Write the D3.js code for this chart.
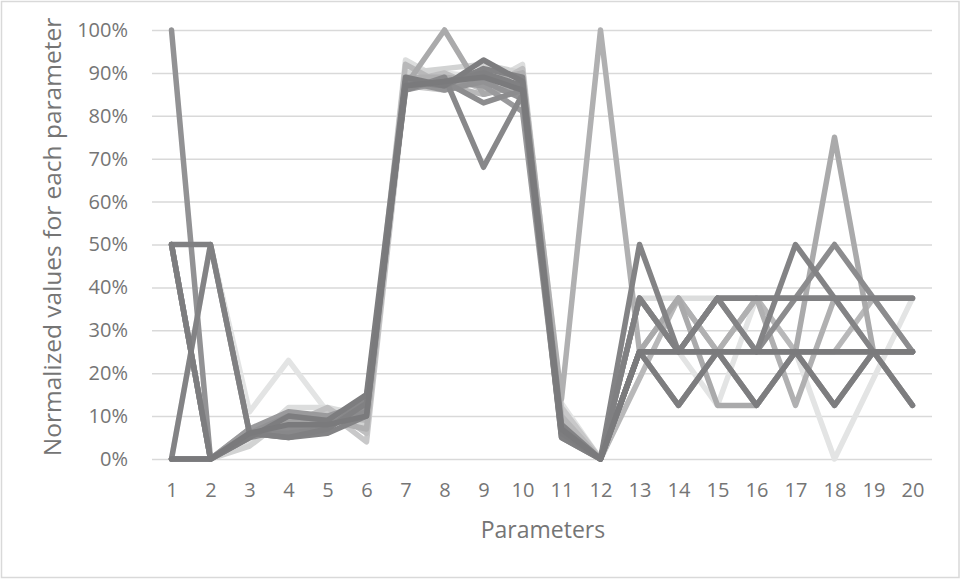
<!DOCTYPE html>
<html>
<head>
<meta charset="utf-8">
<script src="https://cdn.jsdelivr.net/npm/d3@7"></script>
<style>
  html, body { margin: 0; padding: 0; background: #ffffff; }
  svg { display: block; font-family: "Open Sans", "Noto Sans", sans-serif; }
</style>
</head>
<body>
<svg id="chart" width="961" height="579"></svg>
<script>
// Parameter indices along the x axis
const parameters = d3.range(1, 21);

// Y axis tick values (fractions) and their labels
const yTicks = [0, 0.1, 0.2, 0.3, 0.4, 0.5, 0.6, 0.7, 0.8, 0.9, 1.0];
const yTickLabels = ["0%", "10%", "20%", "30%", "40%", "50%", "60%", "70%", "80%", "90%", "100%"];

// Normalized values (%) for each design, parameter 1..20
const s01 = [0, 50, 11, 23, 11, 12, 91, 90, 89, 91, 13, 0, 25, 25, 12.5, 37.5, 25, 0, 18.75, 37.5];
const s02 = [0, 0, 4, 12, 12, 10, 93, 88, 87, 92, 11, 0, 37.5, 37.5, 37.5, 37.5, 37.5, 37.5, 37.5, 37.5];
const s03 = [50, 0, 3, 10, 10, 8, 90, 91, 92, 90, 10, 0, 25, 25, 25, 25, 25, 25, 25, 25];
const s04 = [0, 0, 5, 9, 11, 4, 87, 86, 90, 89, 12, 0, 25, 12.5, 25, 12.5, 25, 12.5, 25, 12.5];
const s05 = [50, 0, 6, 8, 12, 6, 88, 90, 86, 91, 9, 0, 37.5, 25, 37.5, 37.5, 37.5, 37.5, 37.5, 37.5];
const s06 = [0, 0, 7, 7, 10, 9, 92, 87, 85, 88, 10, 0, 18.75, 37.5, 25, 37.5, 25, 25, 37.5, 25];
const s07 = [0, 0, 6, 8, 9, 7, 89, 89, 88, 90, 14, 100, 25, 37.5, 25, 37.5, 12.5, 37.5, 25, 25];
const s08 = [0, 0, 5, 10, 8, 11, 87, 100, 85, 87, 8, 0, 25, 37.5, 12.5, 12.5, 25, 75, 25, 25];
const s09 = [0, 0, 6, 9, 9, 12, 88, 87, 89, 86, 7, 0, 25, 25, 25, 25, 25, 25, 25, 25];
const s10 = [50, 0, 7, 11, 10, 13, 86, 88, 87, 81, 6, 0, 37.5, 25, 37.5, 37.5, 37.5, 37.5, 37.5, 37.5];
const s11 = [100, 0, 6, 10, 9, 12, 88, 86, 88, 84, 7, 0, 25, 12.5, 25, 12.5, 25, 12.5, 25, 12.5];
const s12 = [0, 0, 5, 7, 8, 11, 87, 88, 83, 86, 6, 0, 37.5, 25, 37.5, 25, 37.5, 50, 37.5, 25];
const s13 = [50, 0, 6, 6, 7, 14, 86, 89, 68, 85, 5, 0, 25, 25, 25, 25, 25, 25, 25, 25];
const s14 = [0, 50, 6, 5, 6, 10, 88, 87, 91, 89, 8, 0, 50, 25, 37.5, 25, 50, 37.5, 25, 25];
const s15 = [50, 50, 6, 5, 7, 13, 87, 88, 90, 87, 5, 0, 37.5, 25, 37.5, 37.5, 37.5, 37.5, 37.5, 37.5];
const s16 = [50, 0, 5, 10, 9, 15, 89, 87, 93, 88, 6, 0, 25, 12.5, 25, 12.5, 25, 12.5, 25, 12.5];
const s17 = [0, 0, 6, 8, 8, 10, 87, 88, 89, 86, 7, 0, 25, 25, 25, 25, 25, 25, 25, 25];

const seriesValues = [s01, s02, s03, s04, s05, s06, s07, s08, s09, s10, s11, s12, s13, s14, s15, s16, s17];

// Grey ramp, lightest drawn first so the darker lines sit on top
const seriesColors = ["#e3e4e4", "#dcdddd", "#d2d3d3", "#c8c8c9", "#bfbfc0", "#b8b8b9", "#b0b0b1",
                      "#aaaaab", "#a1a1a2", "#9a9a9c", "#929294", "#8c8c8e", "#88888a", "#838385",
                      "#808082", "#7d7d7f", "#7a7a7c"];

const width = 961, height = 579;
const plot = { left: 152, right: 932, top: 30, bottom: 459 };
const textColor = "#757575";
const gridColor = "#d9d9d9";

const svg = d3.select("#chart");

// Chart area border
svg.append("rect")
  .attr("x", 1.5).attr("y", 1.5)
  .attr("width", width - 3.5).attr("height", height - 3)
  .attr("fill", "#ffffff")
  .attr("stroke", gridColor)
  .attr("stroke-width", 1.5);

const x = d3.scalePoint().domain(parameters).range([plot.left, plot.right]).padding(0.5);
const y = d3.scaleLinear().domain([0, 1]).range([plot.bottom, plot.top]);

// Horizontal gridlines + percentage labels
const yAxis = d3.axisLeft(y)
  .tickValues(yTicks)
  .tickSize(-(plot.right - plot.left))
  .tickPadding(24)
  .tickFormat((d, i) => yTickLabels[i]);

const gy = svg.append("g")
  .attr("transform", `translate(${plot.left},0)`)
  .call(yAxis);
gy.select(".domain").remove();
gy.selectAll(".tick line").attr("stroke", gridColor).attr("stroke-width", 1.5);
gy.selectAll(".tick text")
  .attr("fill", textColor)
  .attr("font-size", 20)
  .attr("font-family", "Open Sans, sans-serif");

// Category labels along the bottom
const xAxis = d3.axisBottom(x).tickSize(0).tickPadding(24);
const gx = svg.append("g")
  .attr("transform", `translate(0,${plot.bottom})`)
  .call(xAxis);
gx.select(".domain").remove();
gx.selectAll(".tick text")
  .attr("fill", textColor)
  .attr("font-size", 20)
  .attr("font-family", "Open Sans, sans-serif");

// Series lines
const line = d3.line()
  .x((d, i) => x(parameters[i]))
  .y(d => y(d / 100));

svg.append("g")
  .selectAll("path")
  .data(seriesValues)
  .join("path")
  .attr("d", d => line(d))
  .attr("fill", "none")
  .attr("stroke", (d, i) => seriesColors[i])
  .attr("stroke-width", 5.5)
  .attr("stroke-linejoin", "round")
  .attr("stroke-linecap", "round");

// Axis titles
svg.append("text")
  .attr("x", (plot.left + plot.right) / 2 + 1)
  .attr("y", 538)
  .attr("text-anchor", "middle")
  .attr("fill", textColor)
  .attr("font-size", 23)
  .text("Parameters");

svg.append("text")
  .attr("transform", `translate(61,237) rotate(-90)`)
  .attr("text-anchor", "middle")
  .attr("fill", textColor)
  .attr("font-size", 24.5)
  .text("Normalized values for each parameter");
</script>
</body>
</html>
